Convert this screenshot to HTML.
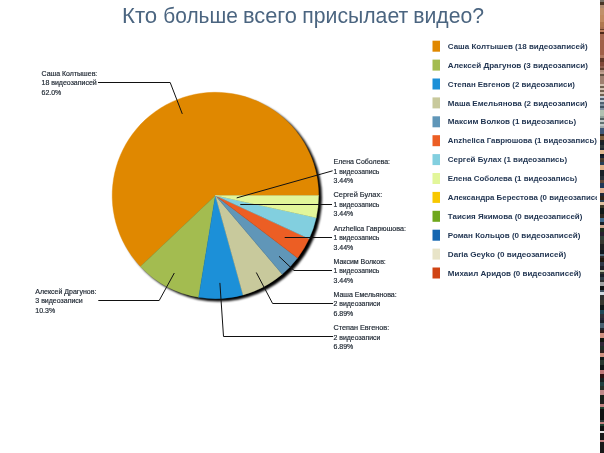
<!DOCTYPE html>
<html><head><meta charset="utf-8">
<style>
html,body{margin:0;padding:0;background:#fff;width:604px;height:453px;overflow:hidden}
svg{display:block;font-family:"Liberation Sans",sans-serif;will-change:transform}
.t text{font-size:22.5px;fill:#4b6580}
.lab text{font-size:7px;fill:#1c2530;stroke:#1c2530;stroke-width:0.18px}
.leg text{font-size:8px;font-weight:bold;fill:#1f3350}
</style></head><body>
<svg width="604" height="453" viewBox="0 0 604 453">
<defs><filter id="sh" x="-10%" y="-10%" width="120%" height="120%"><feGaussianBlur stdDeviation="0.9"/></filter>
<clipPath id="legclip"><rect x="0" y="0" width="597" height="453"/></clipPath></defs>
<g class="t"><text x="122" y="22.6" textLength="35.24" lengthAdjust="spacingAndGlyphs">Кто</text><text x="163.3" y="22.6" textLength="74.49" lengthAdjust="spacingAndGlyphs">больше</text><text x="243" y="22.6" textLength="53.98" lengthAdjust="spacingAndGlyphs">всего</text><text x="302.3" y="22.6" textLength="105.9" lengthAdjust="spacingAndGlyphs">присылает</text><text x="413.3" y="22.6" textLength="70.76" lengthAdjust="spacingAndGlyphs">видео?</text></g>
<circle cx="218.4" cy="198.0" r="103.5" fill="#000" filter="url(#sh)"/>
<path d="M215.4,195.5 L318.60,195.50 A103.2,103.2 0 1 0 140.48,266.47 Z" fill="#E08800" stroke="#E08800" stroke-width="0.4"/>
<path d="M215.4,195.5 L140.48,266.47 A103.2,103.2 0 0 0 198.70,297.34 Z" fill="#A3BC50" stroke="#A3BC50" stroke-width="0.4"/>
<path d="M215.4,195.5 L198.70,297.34 A103.2,103.2 0 0 0 243.01,294.94 Z" fill="#1C90D8" stroke="#1C90D8" stroke-width="0.4"/>
<path d="M215.4,195.5 L243.01,294.94 A103.2,103.2 0 0 0 282.21,274.16 Z" fill="#C8C99C" stroke="#C8C99C" stroke-width="0.4"/>
<path d="M215.4,195.5 L282.21,274.16 A103.2,103.2 0 0 0 297.56,257.95 Z" fill="#6096B8" stroke="#6096B8" stroke-width="0.4"/>
<path d="M215.4,195.5 L297.56,257.95 A103.2,103.2 0 0 0 309.06,238.83 Z" fill="#EC5E24" stroke="#EC5E24" stroke-width="0.4"/>
<path d="M215.4,195.5 L309.06,238.83 A103.2,103.2 0 0 0 316.19,217.68 Z" fill="#82CFDF" stroke="#82CFDF" stroke-width="0.4"/>
<path d="M215.4,195.5 L316.19,217.68 A103.2,103.2 0 0 0 318.60,195.50 Z" fill="#E2F69A" stroke="#E2F69A" stroke-width="0.4"/>
<polyline points="98,82.5 170.2,82.5 182.3,113.9" fill="none" stroke="#111" stroke-width="1"/>
<polyline points="98.3,300.5 159.2,300.5 174.3,273" fill="none" stroke="#111" stroke-width="1"/>
<polyline points="236.7,197.9 332.6,170.8" fill="none" stroke="#111" stroke-width="1"/>
<polyline points="240.3,204.5 332,204.5" fill="none" stroke="#111" stroke-width="1"/>
<polyline points="284.7,237.5 332,237.5" fill="none" stroke="#111" stroke-width="1"/>
<polyline points="279,256.3 294,270.5 332,270.5" fill="none" stroke="#111" stroke-width="1"/>
<polyline points="256.3,272.5 272.6,303.5 333,303.5" fill="none" stroke="#111" stroke-width="1"/>
<polyline points="219.9,282.9 223.5,336.5 333,336.5" fill="none" stroke="#111" stroke-width="1"/>
<g class="lab">
<text x="41.5" y="75.7">Саша Колтышев:</text>
<text x="41.5" y="85.2">18 видеозаписей</text>
<text x="41.5" y="94.7">62.0%</text>
<text x="35.3" y="293.9">Алексей Драгунов:</text>
<text x="35.3" y="303.4">3 видеозаписи</text>
<text x="35.3" y="312.9">10.3%</text>
<text x="333.5" y="164.0">Елена Соболева:</text>
<text x="333.5" y="173.5" textLength="45.9" lengthAdjust="spacingAndGlyphs">1 видеозапись</text>
<text x="333.5" y="183.0">3.44%</text>
<text x="333.5" y="197.0" textLength="48.7" lengthAdjust="spacingAndGlyphs">Сергей Булах:</text>
<text x="333.5" y="206.5" textLength="45.9" lengthAdjust="spacingAndGlyphs">1 видеозапись</text>
<text x="333.5" y="216.0">3.44%</text>
<text x="333.5" y="230.5" textLength="72.4" lengthAdjust="spacingAndGlyphs">Anzhelica Гаврюшова:</text>
<text x="333.5" y="240.0" textLength="45.9" lengthAdjust="spacingAndGlyphs">1 видеозапись</text>
<text x="333.5" y="249.5">3.44%</text>
<text x="333.5" y="263.5">Максим Волков:</text>
<text x="333.5" y="273.0" textLength="45.9" lengthAdjust="spacingAndGlyphs">1 видеозапись</text>
<text x="333.5" y="282.5">3.44%</text>
<text x="333.5" y="296.5">Маша Емельянова:</text>
<text x="333.5" y="306.0" textLength="46.9" lengthAdjust="spacingAndGlyphs">2 видеозаписи</text>
<text x="333.5" y="315.5">6.89%</text>
<text x="333.5" y="330.0" textLength="55.7" lengthAdjust="spacingAndGlyphs">Степан Евгенов:</text>
<text x="333.5" y="339.5" textLength="46.9" lengthAdjust="spacingAndGlyphs">2 видеозаписи</text>
<text x="333.5" y="349.0">6.89%</text>
</g>
<g class="leg" clip-path="url(#legclip)">
<rect x="432.5" y="40.70" width="7.5" height="11" fill="#E08800"/>
<text x="447.8" y="48.80" textLength="139.81" lengthAdjust="spacingAndGlyphs">Саша Колтышев (18 видеозаписей)</text>
<rect x="432.5" y="59.60" width="7.5" height="11" fill="#A3BC50"/>
<text x="447.8" y="67.70" textLength="140.21" lengthAdjust="spacingAndGlyphs">Алексей Драгунов (3 видеозаписи)</text>
<rect x="432.5" y="78.50" width="7.5" height="11" fill="#1C90D8"/>
<text x="447.8" y="86.60" textLength="127.17" lengthAdjust="spacingAndGlyphs">Степан Евгенов (2 видеозаписи)</text>
<rect x="432.5" y="97.40" width="7.5" height="11" fill="#C8C99C"/>
<text x="447.8" y="105.50" textLength="139.72" lengthAdjust="spacingAndGlyphs">Маша Емельянова (2 видеозаписи)</text>
<rect x="432.5" y="116.30" width="7.5" height="11" fill="#6096B8"/>
<text x="447.8" y="124.40" textLength="128.37" lengthAdjust="spacingAndGlyphs">Максим Волков (1 видеозапись)</text>
<rect x="432.5" y="135.20" width="7.5" height="11" fill="#EC5E24"/>
<text x="447.8" y="143.30" textLength="149.10" lengthAdjust="spacingAndGlyphs">Anzhelica Гаврюшова (1 видеозапись)</text>
<rect x="432.5" y="154.10" width="7.5" height="11" fill="#82CFDF"/>
<text x="447.8" y="162.20" textLength="119.31" lengthAdjust="spacingAndGlyphs">Сергей Булах (1 видеозапись)</text>
<rect x="432.5" y="173.00" width="7.5" height="11" fill="#E2F69A"/>
<text x="447.8" y="181.10" textLength="129.46" lengthAdjust="spacingAndGlyphs">Елена Соболева (1 видеозапись)</text>
<rect x="432.5" y="191.90" width="7.5" height="11" fill="#F8C800"/>
<text x="447.8" y="200.00" textLength="159.17" lengthAdjust="spacingAndGlyphs">Александра Берестова (0 видеозаписей)</text>
<rect x="432.5" y="210.80" width="7.5" height="11" fill="#6EA71C"/>
<text x="447.8" y="218.90" textLength="134.60" lengthAdjust="spacingAndGlyphs">Таисия Якимова (0 видеозаписей)</text>
<rect x="432.5" y="229.70" width="7.5" height="11" fill="#1566B0"/>
<text x="447.8" y="237.80" textLength="132.58" lengthAdjust="spacingAndGlyphs">Роман Кольцов (0 видеозаписей)</text>
<rect x="432.5" y="248.60" width="7.5" height="11" fill="#E8E4C8"/>
<text x="447.8" y="256.70" textLength="118.35" lengthAdjust="spacingAndGlyphs">Daria Geyko (0 видеозаписей)</text>
<rect x="432.5" y="267.50" width="7.5" height="11" fill="#D04414"/>
<text x="447.8" y="275.60" textLength="133.42" lengthAdjust="spacingAndGlyphs">Михаил Аридов (0 видеозаписей)</text>
</g>
<rect x="600" y="0" width="4" height="2" fill="#787268"/>
<rect x="600" y="2" width="4" height="3" fill="#4a3626"/>
<rect x="600" y="5" width="4" height="3" fill="#b08a70"/>
<rect x="600" y="8" width="4" height="7" fill="#c0906a"/>
<rect x="600" y="15" width="4" height="7" fill="#c08a60"/>
<rect x="600" y="22" width="4" height="5" fill="#b07850"/>
<rect x="600" y="27" width="4" height="2" fill="#a87050"/>
<rect x="600" y="29" width="4" height="1" fill="#6a4028"/>
<rect x="600" y="30" width="4" height="2" fill="#c08060"/>
<rect x="600" y="32" width="4" height="2" fill="#502818"/>
<rect x="600" y="34" width="4" height="6" fill="#a86850"/>
<rect x="600" y="40" width="4" height="15" fill="#a06048"/>
<rect x="600" y="55" width="4" height="3" fill="#b07860"/>
<rect x="600" y="58" width="4" height="4" fill="#603828"/>
<rect x="600" y="62" width="4" height="4" fill="#804838"/>
<rect x="600" y="66" width="4" height="2" fill="#906050"/>
<rect x="600" y="68" width="4" height="2" fill="#604030"/>
<rect x="600" y="70" width="4" height="2" fill="#b09080"/>
<rect x="600" y="72" width="4" height="2" fill="#c0a090"/>
<rect x="600" y="74" width="4" height="2" fill="#605040"/>
<rect x="600" y="76" width="4" height="8" fill="#a08070"/>
<rect x="600" y="84" width="4" height="2" fill="#d0c0b0"/>
<rect x="600" y="86" width="4" height="2" fill="#706050"/>
<rect x="600" y="88" width="4" height="2" fill="#d0c0b0"/>
<rect x="600" y="90" width="4" height="2" fill="#706050"/>
<rect x="600" y="92" width="4" height="2" fill="#d0c0b0"/>
<rect x="600" y="94" width="4" height="2" fill="#706050"/>
<rect x="600" y="96" width="4" height="2" fill="#c0c8d0"/>
<rect x="600" y="98" width="4" height="2" fill="#506070"/>
<rect x="600" y="100" width="4" height="2" fill="#c0c8d0"/>
<rect x="600" y="102" width="4" height="2" fill="#506070"/>
<rect x="600" y="104" width="4" height="2" fill="#8090a0"/>
<rect x="600" y="106" width="4" height="2" fill="#405060"/>
<rect x="600" y="108" width="4" height="2" fill="#8090a0"/>
<rect x="600" y="110" width="4" height="6" fill="#b0c0b0"/>
<rect x="600" y="116" width="4" height="2" fill="#90a098"/>
<rect x="600" y="118" width="4" height="2" fill="#506060"/>
<rect x="600" y="120" width="4" height="2" fill="#c0c8c8"/>
<rect x="600" y="122" width="4" height="2" fill="#607070"/>
<rect x="600" y="124" width="4" height="2" fill="#c0c8c8"/>
<rect x="600" y="126" width="4" height="2" fill="#a0a8a8"/>
<rect x="600" y="128" width="4" height="6" fill="#405878"/>
<rect x="600" y="134" width="4" height="2" fill="#302820"/>
<rect x="600" y="136" width="4" height="4" fill="#806040"/>
<rect x="600" y="140" width="4" height="2" fill="#202020"/>
<rect x="600" y="142" width="4" height="3" fill="#182028"/>
<rect x="600" y="145" width="4" height="3" fill="#303838"/>
<rect x="600" y="148" width="4" height="2" fill="#202830"/>
<rect x="600" y="150" width="4" height="4" fill="#e0b890"/>
<rect x="600" y="154" width="4" height="2" fill="#101820"/>
<rect x="600" y="156" width="4" height="2" fill="#182030"/>
<rect x="600" y="158" width="4" height="2" fill="#504030"/>
<rect x="600" y="160" width="4" height="2" fill="#403830"/>
<rect x="600" y="162" width="4" height="3" fill="#284058"/>
<rect x="600" y="165" width="4" height="5" fill="#e0b088"/>
<rect x="600" y="170" width="4" height="6" fill="#182028"/>
<rect x="600" y="176" width="4" height="4" fill="#283038"/>
<rect x="600" y="180" width="4" height="3" fill="#604838"/>
<rect x="600" y="183" width="4" height="5" fill="#203858"/>
<rect x="600" y="188" width="4" height="5" fill="#e0b090"/>
<rect x="600" y="193" width="4" height="3" fill="#202838"/>
<rect x="600" y="196" width="4" height="4" fill="#302418"/>
<rect x="600" y="200" width="4" height="2" fill="#304050"/>
<rect x="600" y="202" width="4" height="3" fill="#e0c0a0"/>
<rect x="600" y="205" width="4" height="3" fill="#403828"/>
<rect x="600" y="208" width="4" height="6" fill="#101818"/>
<rect x="600" y="214" width="4" height="4" fill="#302820"/>
<rect x="600" y="218" width="4" height="4" fill="#406888"/>
<rect x="600" y="222" width="4" height="3" fill="#182028"/>
<rect x="600" y="225" width="4" height="3" fill="#d0a890"/>
<rect x="600" y="228" width="4" height="4" fill="#203020"/>
<rect x="600" y="232" width="4" height="4" fill="#282030"/>
<rect x="600" y="236" width="4" height="4" fill="#304038"/>
<rect x="600" y="240" width="4" height="4" fill="#383830"/>
<rect x="600" y="244" width="4" height="6" fill="#202020"/>
<rect x="600" y="250" width="4" height="4" fill="#101820"/>
<rect x="600" y="254" width="4" height="2" fill="#506878"/>
<rect x="600" y="256" width="4" height="2" fill="#302828"/>
<rect x="600" y="258" width="4" height="4" fill="#201810"/>
<rect x="600" y="262" width="4" height="4" fill="#303848"/>
<rect x="600" y="266" width="4" height="4" fill="#202028"/>
<rect x="600" y="270" width="4" height="2" fill="#b0b8a0"/>
<rect x="600" y="272" width="4" height="2" fill="#303830"/>
<rect x="600" y="274" width="4" height="3" fill="#182028"/>
<rect x="600" y="277" width="4" height="3" fill="#304048"/>
<rect x="600" y="280" width="4" height="2" fill="#303030"/>
<rect x="600" y="282" width="4" height="4" fill="#a0a0a0"/>
<rect x="600" y="286" width="4" height="4" fill="#101010"/>
<rect x="600" y="290" width="4" height="2" fill="#405060"/>
<rect x="600" y="292" width="4" height="3" fill="#d0d8e0"/>
<rect x="600" y="295" width="4" height="5" fill="#303030"/>
<rect x="600" y="300" width="4" height="5" fill="#383830"/>
<rect x="600" y="305" width="4" height="5" fill="#101818"/>
<rect x="600" y="310" width="4" height="4" fill="#204858"/>
<rect x="600" y="314" width="4" height="4" fill="#303038"/>
<rect x="600" y="318" width="4" height="2" fill="#282838"/>
<rect x="600" y="320" width="4" height="3" fill="#182028"/>
<rect x="600" y="323" width="4" height="5" fill="#486070"/>
<rect x="600" y="328" width="4" height="2" fill="#202830"/>
<rect x="600" y="330" width="4" height="3" fill="#301818"/>
<rect x="600" y="333" width="4" height="5" fill="#d09080"/>
<rect x="600" y="338" width="4" height="4" fill="#101810"/>
<rect x="600" y="342" width="4" height="4" fill="#302838"/>
<rect x="600" y="346" width="4" height="4" fill="#203028"/>
<rect x="600" y="350" width="4" height="3" fill="#302020"/>
<rect x="600" y="353" width="4" height="4" fill="#d09080"/>
<rect x="600" y="357" width="4" height="3" fill="#101818"/>
<rect x="600" y="360" width="4" height="5" fill="#283830"/>
<rect x="600" y="365" width="4" height="5" fill="#101818"/>
<rect x="600" y="370" width="4" height="4" fill="#c07878"/>
<rect x="600" y="374" width="4" height="4" fill="#301010"/>
<rect x="600" y="378" width="4" height="4" fill="#182020"/>
<rect x="600" y="382" width="4" height="4" fill="#204040"/>
<rect x="600" y="386" width="4" height="4" fill="#283028"/>
<rect x="600" y="390" width="4" height="5" fill="#c08888"/>
<rect x="600" y="395" width="4" height="5" fill="#182018"/>
<rect x="600" y="400" width="4" height="4" fill="#202020"/>
<rect x="600" y="404" width="4" height="3" fill="#c08080"/>
<rect x="600" y="407" width="4" height="2" fill="#204030"/>
<rect x="600" y="409" width="4" height="11" fill="#101010"/>
<rect x="600" y="420" width="4" height="2" fill="#303838"/>
<rect x="600" y="422" width="4" height="2" fill="#c08080"/>
<rect x="600" y="424" width="4" height="2" fill="#204030"/>
<rect x="600" y="426" width="4" height="5" fill="#101010"/>
<rect x="600" y="431" width="4" height="2" fill="#e0e0e0"/>
<rect x="600" y="433" width="4" height="7" fill="#181818"/>
<rect x="600" y="440" width="4" height="2" fill="#c08080"/>
<rect x="600" y="442" width="4" height="11" fill="#181818"/>
</svg>
</body></html>
